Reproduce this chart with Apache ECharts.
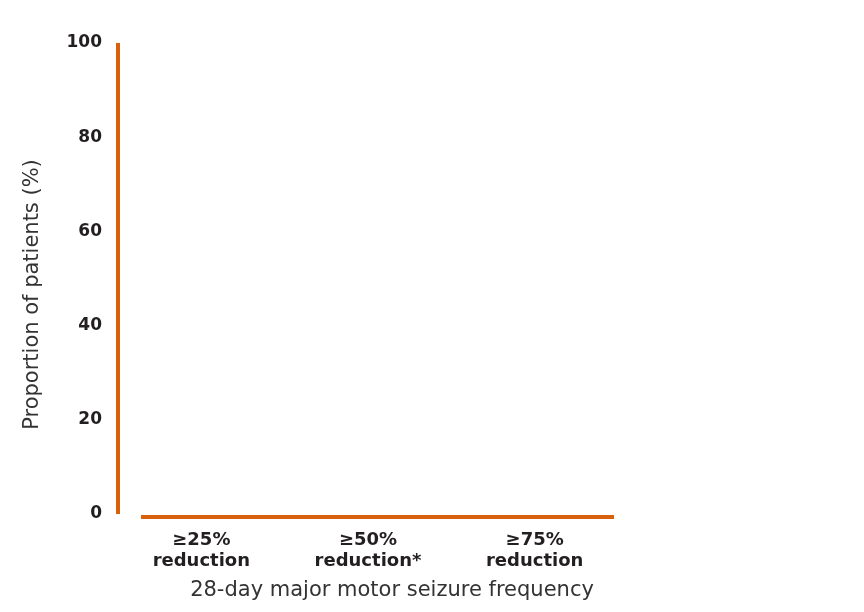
<!DOCTYPE html>
<html>
<head>
<meta charset="utf-8">
<script src="https://cdn.jsdelivr.net/npm/echarts@6/dist/echarts.min.js"></script>
<style>
  html, body { margin: 0; padding: 0; background: #fff; }
  #chart { width: 864px; height: 612px; }
</style>
</head>
<body>
<div id="chart"></div>
<script>
// categories on the x axis (two-line labels)
var categories = ['≥25%\nreduction', '≥50%\nreduction*', '≥75%\nreduction']
// the reference shows no bars, only the empty frame
var values = [null, null, null]
// y axis ticks
var yTicks = [0, 20, 40, 60, 80, 100]

var orange = '#d9600c'
var font = 'DejaVu Sans'

var myChart = echarts.init(document.getElementById('chart'))

var option = {
  animation: false,
  grid: [
    // labels + y axis
    { left: 118, top: 43, width: 500, height: 471 },
    // x axis line, which starts a bit right of the y axis
    { left: 141, top: 43, width: 473, height: 474 }
  ],
  xAxis: [
    {
      type: 'category',
      gridIndex: 0,
      data: categories,
      axisLine: { show: false },
      axisTick: { show: false },
      axisLabel: {
        margin: 16,
        fontFamily: font,
        fontWeight: 'bold',
        fontSize: 18,
        lineHeight: 21,
        color: '#231f20'
      },
      name: '28-day major motor seizure frequency',
      nameLocation: 'middle',
      nameGap: 66,
      nameTextStyle: {
        fontFamily: font,
        fontSize: 21,
        color: '#333',
        padding: [0, 0, 0, 48]
      }
    },
    {
      type: 'category',
      gridIndex: 1,
      data: categories,
      axisLine: { show: true, lineStyle: { color: orange, width: 4, cap: 'butt' } },
      axisTick: { show: false },
      axisLabel: { show: false }
    }
  ],
  yAxis: [
    {
      type: 'value',
      gridIndex: 0,
      min: yTicks[0],
      max: yTicks[yTicks.length - 1],
      interval: 20,
      axisLine: { show: true, lineStyle: { color: orange, width: 4, cap: 'butt' } },
      axisTick: { show: false },
      splitLine: { show: false },
      axisLabel: {
        margin: 16,
        fontFamily: font,
        fontWeight: 'bold',
        fontSize: 17,
        color: '#231f20'
      },
      name: 'Proportion of patients (%)',
      nameLocation: 'middle',
      nameGap: 75,
      nameTextStyle: {
        fontFamily: font,
        fontSize: 21,
        color: '#333',
        padding: [0, 32, 0, 0]
      }
    },
    {
      type: 'value',
      gridIndex: 1,
      min: 0,
      max: 100,
      show: false
    }
  ],
  series: [
    {
      type: 'bar',
      xAxisIndex: 0,
      yAxisIndex: 0,
      data: values
    }
  ]
}

myChart.setOption(option)
</script>
</body>
</html>
